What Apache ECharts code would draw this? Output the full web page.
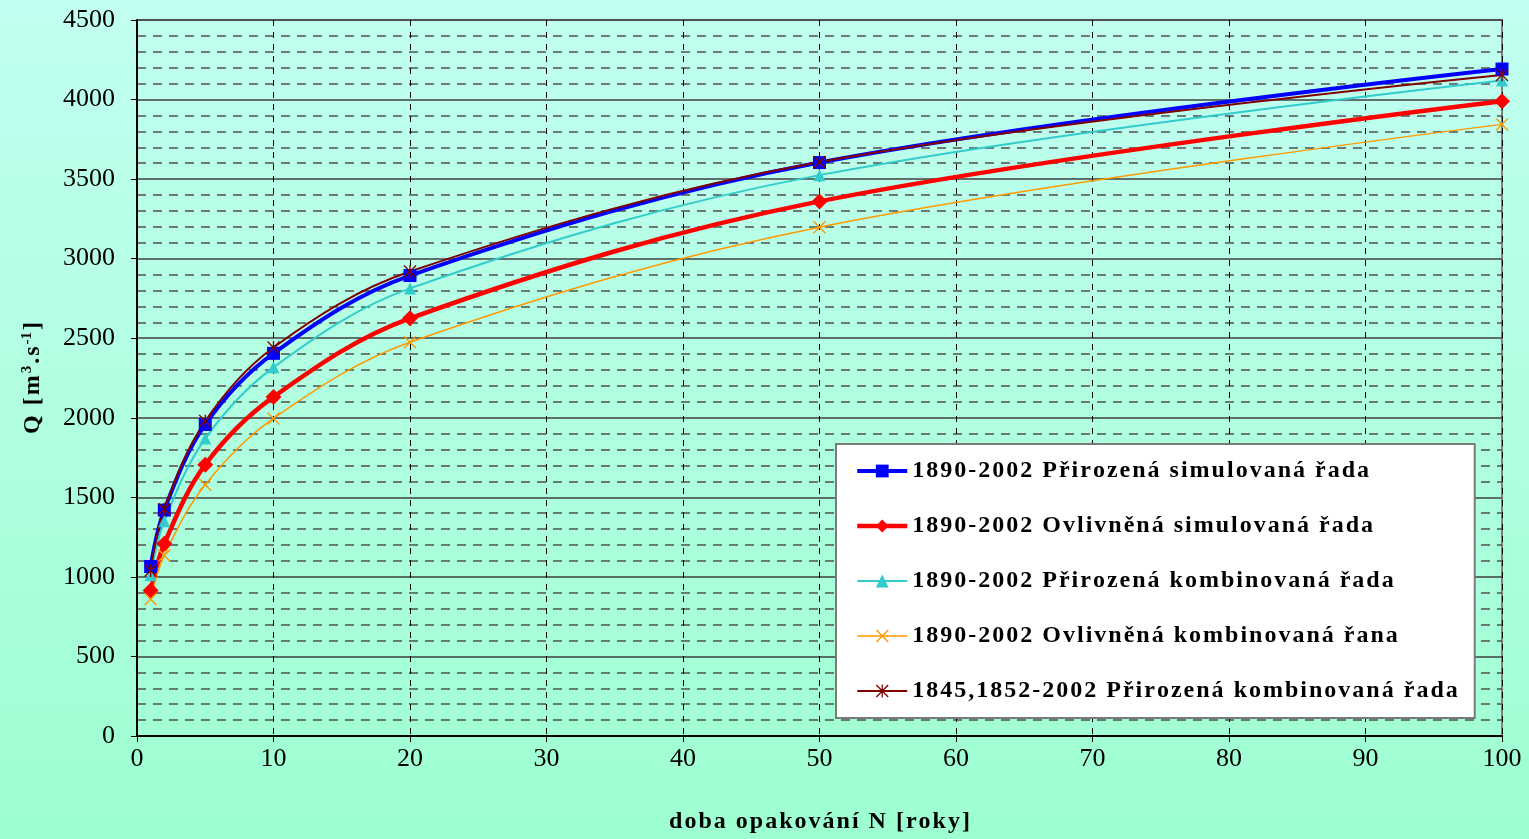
<!DOCTYPE html>
<html><head><meta charset="utf-8">
<script src="https://cdn.jsdelivr.net/npm/echarts@6/dist/echarts.min.js"></script>
<style>
html,body{margin:0;padding:0;}
#c{width:1529px;height:839px;background:linear-gradient(to bottom,#c2fff2 0%,#b0ffe0 50%,#9dffd0 100%);}
</style></head><body>
<div id="c"></div>
<script>
const years = [1, 2, 5, 10, 20, 50, 100];
const seriesNames = [
  '1890-2002 Přirozená simulovaná řada',
  '1890-2002 Ovlivněná simulovaná řada',
  '1890-2002 Přirozená kombinovaná řada',
  '1890-2002 Ovlivněná kombinovaná řana',
  '1845,1852-2002 Přirozená kombinovaná řada'
];
const blueVals   = [1065, 1420, 1958, 2405, 2894, 3604, 4192];
const redVals    = [915, 1208, 1705, 2131, 2625, 3360, 3990];
const cyanVals   = [1010, 1350, 1869, 2317, 2813, 3525, 4120];
const orangeVals = [860, 1135, 1579, 1996, 2475, 3198, 3844];
const brownVals  = [1040, 1425, 1979, 2442, 2919, 3607, 4155];
const xTitle = 'doba opakování N [roky]';

const sp = s => String(s).split('').join('\u200a');
const pair = v => years.map((y, i) => [y, v[i]]);
const font = '"Liberation Serif", "Times New Roman", serif';
const xPath = 'path://M0,1.5 L1.5,0 L10,8.5 L18.5,0 L20,1.5 L11.5,10 L20,18.5 L18.5,20 L10,11.5 L1.5,20 L0,18.5 L8.5,10 Z';
const starPath = 'path://M0,1.5 L1.5,0 L10,8.5 L18.5,0 L20,1.5 L11.5,10 L20,18.5 L18.5,20 L10,11.5 L1.5,20 L0,18.5 L8.5,10 Z M9,0 L11,0 L11,20 L9,20 Z';
const colors = ['#0000ff', '#ff0000', '#33cccc', '#ff9900', '#800000'];
const widths = [4, 4.5, 2, 1.5, 2];
const symbols = ['rect', 'diamond', 'triangle', xPath, starPath];
const sizes = [13, 16, 12, 13, 13];

const mk = (i, data) => ({
  name: seriesNames[i], type: 'line', data: pair(data), smooth: 0.35,
  symbol: symbols[i], symbolSize: sizes[i], showSymbol: true,
  lineStyle: { color: colors[i], width: widths[i] }, itemStyle: { color: colors[i] },
  emphasis: { disabled: true }
});

const chart = echarts.init(document.getElementById('c'));
chart.setOption({
  animation: false,
  grid: { left: 137, right: 27, top: 20, bottom: 99, show: true, borderColor: '#808080', borderWidth: 2 },
  xAxis: {
    type: 'value', min: 0, max: 100, interval: 10,
    name: sp(xTitle), nameLocation: 'middle', nameGap: 74,
    nameTextStyle: { fontFamily: font, fontSize: 24, fontWeight: 'bold', color: '#000' },
    axisLine: { show: true, lineStyle: { color: '#000', width: 2 } },
    axisTick: { show: true, length: 6, lineStyle: { color: '#000' } },
    axisLabel: { fontFamily: font, fontSize: 26, color: '#000', margin: 10, formatter: v => String(v) },
    splitLine: { show: true, lineStyle: { color: '#000', type: [6, 6], width: 1 } }
  },
  yAxis: {
    type: 'value', min: 0, max: 4500, interval: 500,
    name: '{b|' + sp('Q [m') + '}{s|3}{b|' + sp('.s') + '}{s|-1}{b|]}', nameLocation: 'middle', nameGap: 92, nameRotate: 90,
    nameTextStyle: { fontFamily: font, color: '#000',
      rich: { b: { fontFamily: font, fontSize: 24, fontWeight: 'bold', color: '#000' },
              s: { fontFamily: font, fontSize: 15, fontWeight: 'bold', color: '#000', verticalAlign: 'top', padding: [0, 2, 10, 2] } } },
    axisLine: { show: true, lineStyle: { color: '#000', width: 2 } },
    axisTick: { show: true, length: 6, lineStyle: { color: '#000' } },
    axisLabel: { fontFamily: font, fontSize: 26, color: '#000', margin: 22, formatter: v => String(v) },
    splitLine: { show: true, lineStyle: { color: '#404040', width: 1.5 } },
    minorTick: { show: false, splitNumber: 5 },
    minorSplitLine: { show: true, lineStyle: { color: '#505050', type: [9, 7], width: 1.5 } }
  },
  legend: {
    orient: 'vertical', left: 836, top: 444, width: 642,
    backgroundColor: '#ffffff', borderColor: '#7a7a7a', borderWidth: 2,
    padding: [15, 17, 15, 19], itemGap: 31, itemWidth: 50, itemHeight: 16,
    textStyle: { fontFamily: font, fontSize: 24, fontWeight: 'bold', color: '#000', lineHeight: 24 },
    formatter: n => sp(n),
    data: seriesNames.map((n, i) => ({ name: n, lineStyle: { width: widths[i] } }))
  },
  series: [
    mk(0, blueVals), mk(1, redVals), mk(2, cyanVals), mk(3, orangeVals), mk(4, brownVals)
  ]
});
</script>
</body></html>
